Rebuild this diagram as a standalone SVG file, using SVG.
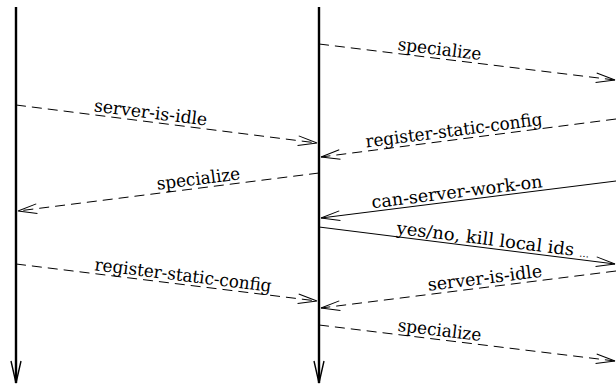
<svg xmlns="http://www.w3.org/2000/svg" width="616" height="386" viewBox="0 0 616 386">
<style>
.life{stroke:#000;stroke-width:2.4;fill:none}
.msg{stroke:#000;stroke-width:1;fill:none}
.dash{stroke-dasharray:10 6}
.lbl{font-family:"DejaVu Serif","Liberation Serif",serif;font-size:17.5px;fill:#000;text-anchor:middle}
</style>
<defs>
<marker id="ah" markerUnits="userSpaceOnUse" orient="auto" refX="0" refY="0" markerWidth="24" markerHeight="14" viewBox="-20 -7 24 14" overflow="visible">
<path d="M-19,-4.8 L0,0 L-19,4.8" fill="none" stroke="#000" stroke-width="1"/>
</marker>
<marker id="lh" markerUnits="userSpaceOnUse" orient="auto" refX="0" refY="0" markerWidth="26" markerHeight="14" viewBox="-24 -7 26 14" overflow="visible">
<path d="M-22,-5 L0,0 L-22,5" fill="none" stroke="#000" stroke-width="1.4"/>
</marker>
</defs>
<rect width="616" height="386" fill="#fff"/>
<g id="lifeline-left"><line class="life" x1="16" y1="7" x2="16" y2="383" marker-end="url(#lh)"/></g>
<g id="lifeline-middle"><line class="life" x1="319" y1="7" x2="319" y2="383" marker-end="url(#lh)"/></g>
<g id="connectors">
<g id="m1"><line class="msg dash" x1="319" y1="44" x2="615" y2="80" marker-end="url(#ah)"/>
<text class="lbl" transform="translate(438.5,58.5) rotate(6.9)" y="-3.5" textLength="84" lengthAdjust="spacingAndGlyphs">specialize</text></g>
<g id="m2"><line class="msg dash" x1="16" y1="105" x2="317" y2="143" marker-end="url(#ah)"/>
<text class="lbl" transform="translate(149.5,121.9) rotate(7.2)" y="-3.5" textLength="114" lengthAdjust="spacingAndGlyphs">server-is-idle</text></g>
<g id="m3"><line class="msg dash" x1="616" y1="119" x2="321" y2="157" marker-end="url(#ah)"/>
<text class="lbl" transform="translate(455,139.6) rotate(-7.3)" y="-3.5" textLength="178" lengthAdjust="spacingAndGlyphs">register-static-config</text></g>
<g id="m4"><line class="msg dash" x1="319" y1="173" x2="18" y2="211" marker-end="url(#ah)"/>
<text class="lbl" transform="translate(199.5,188) rotate(-7.15)" y="-3.5" textLength="84" lengthAdjust="spacingAndGlyphs">specialize</text></g>
<g id="m5"><line class="msg" x1="616" y1="181" x2="321" y2="218" marker-end="url(#ah)"/>
<text class="lbl" transform="translate(458,200.7) rotate(-7.1)" y="-3" textLength="172" lengthAdjust="spacingAndGlyphs">can-server-work-on</text></g>
<g id="m6"><line class="msg" x1="319" y1="227" x2="615" y2="264" marker-end="url(#ah)"/>
<text class="lbl" transform="translate(492,248.6) rotate(7.1)" y="-3" textLength="194" lengthAdjust="spacingAndGlyphs">yes/no, kill local ids <tspan font-size="10">...</tspan></text></g>
<g id="m7"><line class="msg dash" x1="616" y1="271" x2="321" y2="308" marker-end="url(#ah)"/>
<text class="lbl" transform="translate(486,287.2) rotate(-7.1)" y="-3.5" textLength="115" lengthAdjust="spacingAndGlyphs">server-is-idle</text></g>
<g id="m8"><line class="msg dash" x1="16" y1="264" x2="317" y2="301" marker-end="url(#ah)"/>
<text class="lbl" transform="translate(182,284.5) rotate(7.0)" y="-3.5" textLength="178" lengthAdjust="spacingAndGlyphs">register-static-config</text></g>
<g id="m9"><line class="msg dash" x1="319" y1="325" x2="615" y2="361" marker-end="url(#ah)"/>
<text class="lbl" transform="translate(438.5,339.5) rotate(6.9)" y="-3.5" textLength="84" lengthAdjust="spacingAndGlyphs">specialize</text></g>
</g>
</svg>
